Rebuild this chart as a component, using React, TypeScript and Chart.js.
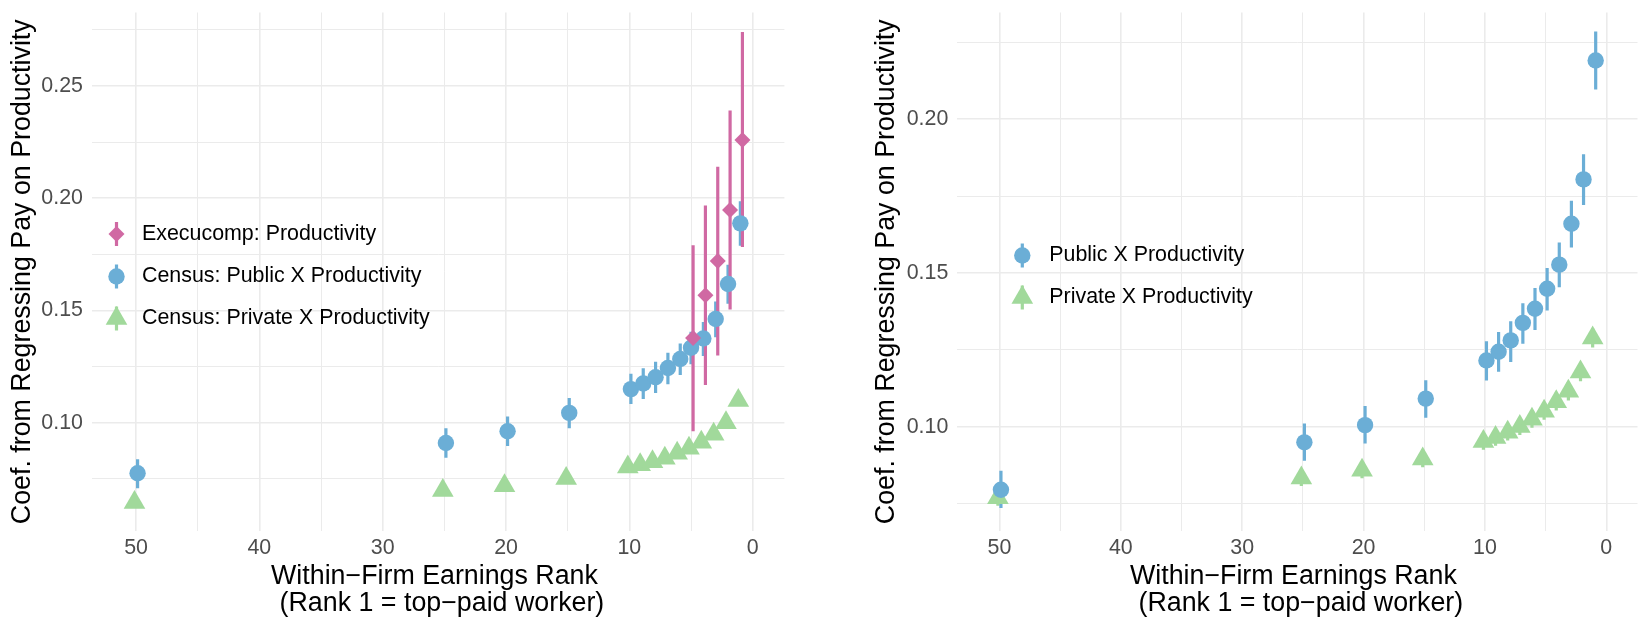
import React, { useEffect, useRef } from 'react';
import { Chart, registerables } from 'chart.js';

Chart.register(...registerables);

const FONT_FAMILY = "'Liberation Sans', Arial, Helvetica, sans-serif";
const TICK_COLOR = '#4D4D4D';
const GRID_COLOR = '#EBEBEB';
const PINK = '#D069A3';
const BLUE = '#6BAED6';
const GREEN = '#A1D99B';
const SMALL_FONT = 21.4;
const TITLE_FONT = 26.8;

// ---------- ticks ----------
const xTickValues = [0, 5, 10, 15, 20, 25, 30, 35, 40, 45, 50];
const xTickLabels = ['0', '', '10', '', '20', '', '30', '', '40', '', '50'];
const leftYTickValues = [0.075, 0.1, 0.125, 0.15, 0.175, 0.2, 0.225, 0.25, 0.275];
const leftYTickLabels = ['', '0.10', '', '0.15', '', '0.20', '', '0.25', ''];
const rightYTickValues = [0.075, 0.1, 0.125, 0.15, 0.175, 0.2, 0.225];
const rightYTickLabels = ['', '0.10', '', '0.15', '', '0.20', ''];

const xTitle = ['Within\u2212Firm Earnings Rank ', ' (Rank 1 = top\u2212paid worker)'];
const yTitle = 'Coef. from Regressing Pay on Productivity';

// ---------- left panel data ----------
const execRanks = [5, 4, 3, 2, 1];
const execCoef = [0.1378, 0.1568, 0.172, 0.1948, 0.2259];
const execLo = [0.0962, 0.1168, 0.13, 0.1504, 0.1783];
const execHi = [0.1791, 0.1967, 0.214, 0.2391, 0.274];

const censusRanks = [50, 25, 20, 15, 10, 9, 8, 7, 6, 5, 4, 3, 2, 1];
const censusPubCoef = [0.0775, 0.091, 0.0962, 0.1044, 0.115, 0.1175, 0.1203, 0.1244, 0.1284, 0.1334, 0.1375, 0.1462, 0.1618, 0.1888];
const censusPubLo = [0.0708, 0.0844, 0.0897, 0.0976, 0.1084, 0.1106, 0.1133, 0.1172, 0.1213, 0.1261, 0.1297, 0.1381, 0.153, 0.1788];
const censusPubHi = [0.0838, 0.0976, 0.1028, 0.111, 0.1218, 0.1243, 0.1272, 0.1312, 0.1353, 0.1405, 0.1449, 0.154, 0.1704, 0.1986];
const censusPrivCoef = [0.0645, 0.0698, 0.072, 0.0752, 0.0803, 0.0813, 0.0826, 0.0842, 0.0864, 0.0886, 0.0913, 0.0949, 0.1, 0.1099];
const censusPrivLo = [0.0625, 0.0679, 0.0702, 0.0734, 0.0785, 0.0795, 0.0808, 0.0824, 0.0846, 0.0868, 0.0894, 0.0929, 0.0979, 0.1076];
const censusPrivHi = [0.0665, 0.0717, 0.0738, 0.077, 0.0821, 0.0831, 0.0844, 0.086, 0.0882, 0.0904, 0.0932, 0.0969, 0.1021, 0.1122];

// ---------- right panel data ----------
const rightRanks = [50, 25, 20, 15, 10, 9, 8, 7, 6, 5, 4, 3, 2, 1];
const pubCoef = [0.0796, 0.095, 0.1006, 0.1092, 0.1216, 0.1244, 0.1281, 0.1338, 0.1384, 0.1449, 0.1527, 0.166, 0.1804, 0.219];
const pubLo = [0.0737, 0.089, 0.0946, 0.103, 0.1151, 0.1179, 0.1211, 0.127, 0.1315, 0.1378, 0.1454, 0.1583, 0.1721, 0.2096];
const pubHi = [0.0858, 0.1011, 0.1068, 0.1152, 0.1278, 0.1308, 0.1343, 0.1402, 0.1451, 0.1516, 0.1599, 0.1735, 0.1886, 0.2284];
const privCoef = [0.077, 0.0834, 0.0859, 0.0896, 0.0953, 0.0966, 0.0983, 0.1001, 0.1025, 0.1051, 0.1082, 0.1116, 0.1178, 0.1289];
const privLo = [0.0744, 0.0808, 0.0833, 0.0869, 0.0926, 0.0939, 0.0956, 0.0974, 0.0997, 0.1023, 0.1053, 0.1086, 0.1148, 0.1258];
const privHi = [0.0796, 0.086, 0.0885, 0.0923, 0.098, 0.0993, 0.101, 0.1028, 0.1053, 0.1079, 0.1111, 0.1146, 0.1208, 0.132];

const DODGE_WIDTH = 0.5;

type Shape = 'circle' | 'triangle' | 'rectRot';
interface Series {
  label: string;
  ranks: number[];
  coef: number[];
  lo: number[];
  hi: number[];
  color: string;
  shape: Shape;
  radius: number;
}

interface PanelSpec {
  series: Series[];
  xMin: number;
  xMax: number;
  yMin: number;
  yMax: number;
  yTicks: number[];
  yLabels: string[];
  yAxisWidth: number;
  yTickPad: number;
  yTitlePad: number;
  padRight: number;
  legendKeyX: number;
  legendTextX: number;
  legendYs: number[];
}

function dodgeOffset(rank: number, si: number, all: Series[]): number {
  const present = all.map((s, i) => (s.ranks.includes(rank) ? i : -1)).filter((i) => i >= 0);
  const n = present.length;
  const k = present.indexOf(si);
  const w = DODGE_WIDTH / n;
  return -DODGE_WIDTH / 2 + w * (k + 0.5);
}

function drawMarker(ctx: CanvasRenderingContext2D, shape: Shape, x: number, y: number, r: number, color: string) {
  ctx.fillStyle = color;
  ctx.beginPath();
  if (shape === 'circle') {
    ctx.arc(x, y, r, 0, Math.PI * 2);
  } else if (shape === 'triangle') {
    ctx.moveTo(x, y - r);
    ctx.lineTo(x + r * Math.sin(Math.PI * 2 / 3), y + r * 0.5);
    ctx.lineTo(x - r * Math.sin(Math.PI * 2 / 3), y + r * 0.5);
    ctx.closePath();
  } else {
    ctx.moveTo(x - r, y);
    ctx.lineTo(x, y - r);
    ctx.lineTo(x + r, y);
    ctx.lineTo(x, y + r);
    ctx.closePath();
  }
  ctx.fill();
}

function buildChart(canvas: HTMLCanvasElement, spec: PanelSpec): Chart {
  const datasets: any[] = [];
  spec.series.forEach((s, si) => {
    const xs = s.ranks.map((r) => r + dodgeOffset(r, si, spec.series));
    const barData: any[] = [];
    xs.forEach((x, i) => {
      barData.push({ x, y: s.lo[i] });
      barData.push({ x, y: s.hi[i] });
      barData.push({ x, y: null });
    });
    datasets.push({
      type: 'scatter',
      label: s.label + ' CI',
      data: barData,
      showLine: true,
      spanGaps: false,
      borderColor: s.color,
      borderWidth: 3.2,
      borderCapStyle: 'butt',
      pointRadius: 0,
      pointHoverRadius: 0,
      order: 10 + si,
    });
    datasets.push({
      type: 'scatter',
      label: s.label,
      data: xs.map((x, i) => ({ x, y: s.coef[i] })),
      pointStyle: s.shape,
      pointRadius: s.radius,
      pointHoverRadius: s.radius,
      backgroundColor: s.color,
      borderColor: s.color,
      borderWidth: 0,
      pointBorderWidth: 0,
      order: si,
    });
  });

  const legendPlugin = {
    id: 'insideLegend',
    afterDraw(chart: any) {
      const ctx: CanvasRenderingContext2D = chart.ctx;
      ctx.save();
      spec.series.forEach((s, i) => {
        const y = spec.legendYs[i];
        ctx.strokeStyle = s.color;
        ctx.lineWidth = 3.2;
        ctx.beginPath();
        ctx.moveTo(spec.legendKeyX, y - 12);
        ctx.lineTo(spec.legendKeyX, y + 12);
        ctx.stroke();
        drawMarker(ctx, s.shape, spec.legendKeyX, y, s.radius, s.color);
        ctx.fillStyle = '#000000';
        ctx.font = `${SMALL_FONT}px ${FONT_FAMILY}`;
        ctx.textAlign = 'left';
        ctx.textBaseline = 'middle';
        ctx.fillText(s.label, spec.legendTextX, y);
      });
      ctx.restore();
    },
  };

  return new Chart(canvas, {
    type: 'scatter',
    data: { datasets },
    plugins: [legendPlugin],
    options: {
      animation: false,
      responsive: false,
      events: [],
      layout: { padding: { top: 5, left: 0, right: spec.padRight, bottom: 0 } },
      plugins: { legend: { display: false }, tooltip: { enabled: false }, title: { display: false } },
      scales: {
        x: {
          type: 'linear',
          reverse: true,
          bounds: 'data',
          min: spec.xMin,
          max: spec.xMax,
          afterBuildTicks: (scale: any) => {
            scale.ticks = xTickValues.map((value) => ({ value }));
          },
          afterFit: (scale: any) => {
            scale.height = 88;
            scale.paddingLeft = 0;
            scale.paddingRight = 0;
          },
          ticks: {
            autoSkip: false,
            maxRotation: 0,
            minRotation: 0,
            padding: 4,
            color: TICK_COLOR,
            font: { family: FONT_FAMILY, size: SMALL_FONT },
            callback: (_v: any, index: number) => xTickLabels[index],
          },
          grid: {
            color: GRID_COLOR,
            drawTicks: false,
            lineWidth: (c: any) => (c.index !== undefined && xTickLabels[c.index] !== '' ? 1.6 : 1.0),
          },
          border: { display: false },
          title: {
            display: true,
            text: xTitle,
            color: '#000000',
            font: { family: FONT_FAMILY, size: TITLE_FONT, lineHeight: 1.02 },
            padding: { top: 0, bottom: 1.3 },
          },
        },
        y: {
          type: 'linear',
          bounds: 'data',
          min: spec.yMin,
          max: spec.yMax,
          afterBuildTicks: (scale: any) => {
            scale.ticks = spec.yTicks.map((value) => ({ value }));
          },
          afterFit: (scale: any) => {
            scale.width = spec.yAxisWidth;
            scale.paddingTop = 0;
            scale.paddingBottom = 0;
          },
          ticks: {
            autoSkip: false,
            padding: spec.yTickPad,
            color: TICK_COLOR,
            font: { family: FONT_FAMILY, size: SMALL_FONT },
            callback: (_v: any, index: number) => spec.yLabels[index],
          },
          grid: {
            color: GRID_COLOR,
            drawTicks: false,
            lineWidth: (c: any) => (c.index !== undefined && spec.yLabels[c.index] !== '' ? 1.6 : 1.0),
          },
          border: { display: false },
          title: {
            display: true,
            text: yTitle,
            color: '#000000',
            font: { family: FONT_FAMILY, size: TITLE_FONT },
            padding: { top: spec.yTitlePad, bottom: 0 },
          },
        },
      },
    } as any,
  });
}

const leftSeries: Series[] = [
  { label: 'Execucomp: Productivity', ranks: execRanks, coef: execCoef, lo: execLo, hi: execHi, color: PINK, shape: 'rectRot', radius: 8 },
  { label: 'Census: Public X Productivity', ranks: censusRanks, coef: censusPubCoef, lo: censusPubLo, hi: censusPubHi, color: BLUE, shape: 'circle', radius: 8.2 },
  { label: 'Census: Private X Productivity', ranks: censusRanks, coef: censusPrivCoef, lo: censusPrivLo, hi: censusPrivHi, color: GREEN, shape: 'triangle', radius: 12.5 },
];

const rightSeries: Series[] = [
  { label: 'Public X Productivity', ranks: rightRanks, coef: pubCoef, lo: pubLo, hi: pubHi, color: BLUE, shape: 'circle', radius: 8.2 },
  { label: 'Private X Productivity', ranks: rightRanks, coef: privCoef, lo: privLo, hi: privHi, color: GREEN, shape: 'triangle', radius: 12.5 },
];

export default function App() {
  const leftRef = useRef<HTMLCanvasElement | null>(null);
  const rightRef = useRef<HTMLCanvasElement | null>(null);

  useEffect(() => {
    const charts: Chart[] = [];
    if (leftRef.current) {
      charts.push(
        buildChart(leftRef.current, {
          series: leftSeries,
          xMin: -2.57,
          xMax: 53.57,
          yMin: 0.0518,
          yMax: 0.2827,
          yTicks: leftYTickValues,
          yLabels: leftYTickLabels,
          yAxisWidth: 92,
          yTickPad: 9,
          yTitlePad: 6.4,
          padRight: 75.6,
          legendKeyX: 116.5,
          legendTextX: 142,
          legendYs: [234, 276.5, 318.5],
        })
      );
    }
    if (rightRef.current) {
      charts.push(
        buildChart(rightRef.current, {
          series: rightSeries,
          xMin: -2.57,
          xMax: 53.52,
          yMin: 0.0662,
          yMax: 0.2346,
          yTicks: rightYTickValues,
          yLabels: rightYTickLabels,
          yAxisWidth: 96.7,
          yTickPad: 8.4,
          yTitlePad: 10.4,
          padRight: 2.7,
          legendKeyX: 162.3,
          legendTextX: 189.3,
          legendYs: [255.5, 297.5],
        })
      );
    }
    return () => charts.forEach((c) => c.destroy());
  }, []);

  return (
    <div style={{ position: 'absolute', left: 0, top: 0, width: 1644, height: 619, overflow: 'hidden', background: '#ffffff' }}>
      <canvas ref={leftRef} width={860} height={619} style={{ position: 'absolute', left: 0, top: 0, width: 860, height: 619 }} />
      <canvas ref={rightRef} width={790} height={619} style={{ position: 'absolute', left: 860, top: 0, width: 790, height: 619 }} />
    </div>
  );
}
